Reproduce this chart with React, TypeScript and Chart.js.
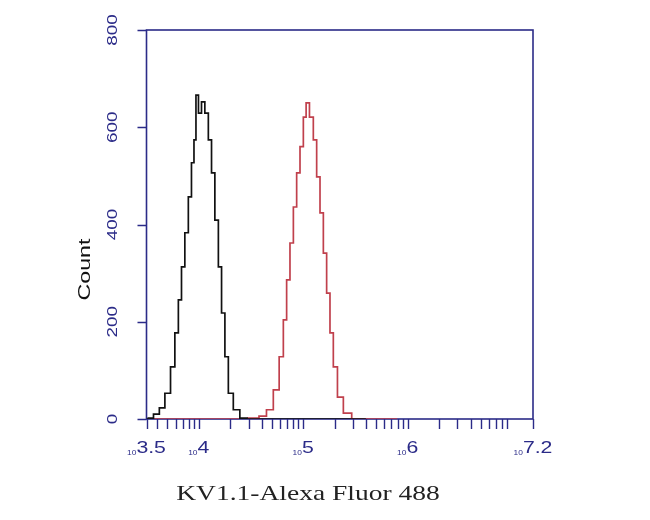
import React, { useEffect, useRef } from "react";
import { Chart, registerables } from "chart.js";

Chart.register(...registerables);

// Histogram 1 (control, black): log10 fluorescence vs count
const blackLog = [3.50, 3.534, 3.60, 3.646, 3.706, 3.754, 3.789, 3.821, 3.849, 3.885, 3.916, 3.945, 3.964, 3.983, 4.012, 4.041, 4.076, 4.108, 4.137, 4.172, 4.204, 4.233, 4.268, 4.299, 4.363, 4.424, 4.50, 5.00, 5.60];
const blackCount = [0, 2, 10, 23, 53, 107, 177, 245, 313, 383, 457, 527, 574, 666, 629, 652, 629, 574, 506, 409, 313, 218, 128, 53, 19, 2, 0, 0, 0];

// Histogram 2 (KV1.1-Alexa Fluor 488, red)
const redLog = [3.52, 4.40, 4.539, 4.615, 4.682, 4.746, 4.794, 4.826, 4.857, 4.890, 4.922, 4.953, 4.986, 5.017, 5.039, 5.081, 5.113, 5.145, 5.177, 5.209, 5.240, 5.273, 5.304, 5.352, 5.417, 5.512, 5.90];
const redCount = [0, 0, 2, 6, 19, 60, 128, 204, 286, 362, 436, 506, 560, 621, 650, 621, 574, 498, 424, 341, 259, 177, 107, 45, 12, 0, 0];

const yTicks = [0, 200, 400, 600, 800];
const xMajorExp = ["3.5", "4", "5", "6", "7.2"];
const xMajorVal = [3.5, 4, 5, 6, 7.2];
const xTitle = "KV1.1-Alexa Fluor 488";
const yTitle = "Count";

const NAVY = "#2b2b88";

function drawText(
  ctx: CanvasRenderingContext2D,
  text: string,
  x: number,
  y: number,
  font: string,
  color: string,
  sx: number,
  rot: number,
  align: CanvasTextAlign,
  baseline: CanvasTextBaseline
) {
  ctx.save();
  ctx.translate(x, y);
  ctx.rotate(rot);
  ctx.scale(sx, 1);
  ctx.font = font;
  ctx.fillStyle = color;
  ctx.textAlign = align;
  ctx.textBaseline = baseline;
  ctx.fillText(text, 0, 0);
  ctx.restore();
}

const axesPlugin = {
  id: "flowAxes",
  beforeDatasetsDraw(chart: any) {
    const { ctx, chartArea } = chart;
    const xs = chart.scales.x;
    const ys = chart.scales.y;
    const { left, right, top, bottom } = chartArea;
    ctx.save();
    ctx.strokeStyle = NAVY;
    ctx.lineWidth = 1.6;
    ctx.strokeRect(left, top, right - left, bottom - top);
    // y ticks
    ctx.beginPath();
    for (const v of yTicks) {
      const py = Math.round(ys.getPixelForValue(v)) + 0.5;
      ctx.moveTo(left - 9, py);
      ctx.lineTo(left, py);
    }
    // x ticks (log decades)
    ctx.lineWidth = 1.4;
    const minV = xs.min;
    const maxV = xs.max;
    const tv: number[] = [...xMajorVal];
    for (let n = 3; n <= 7; n++) {
      for (let m = 2; m <= 9; m++) {
        const v = Math.log10(m * Math.pow(10, n));
        if (v > minV && v < maxV) tv.push(v);
      }
    }
    for (const v of tv) {
      const px = Math.round(xs.getPixelForValue(v)) + 0.5;
      ctx.moveTo(px, bottom);
      ctx.lineTo(px, bottom + 10);
    }
    ctx.stroke();
    ctx.restore();

    // y tick labels (rotated)
    for (const v of yTicks) {
      const py = ys.getPixelForValue(v);
      drawText(ctx, String(v), left - 33, py, "14px 'Liberation Sans', Arial, sans-serif", NAVY, 1.35, -Math.PI / 2, "center", "middle");
    }
    // x tick labels: small "10" + exponent
    for (let i = 0; i < xMajorVal.length; i++) {
      const px = xs.getPixelForValue(xMajorVal[i]);
      const sx = 1.25;
      ctx.save();
      ctx.font = "7px 'Liberation Sans', Arial, sans-serif";
      const w1 = ctx.measureText("10").width * 1.2;
      ctx.font = "17px 'Liberation Sans', Arial, sans-serif";
      const w2 = ctx.measureText(xMajorExp[i]).width * sx;
      ctx.restore();
      const start = px - (w1 + w2) / 2;
      drawText(ctx, "10", start, bottom + 36, "7px 'Liberation Sans', Arial, sans-serif", NAVY, 1.2, 0, "left", "alphabetic");
      drawText(ctx, xMajorExp[i], start + w1, bottom + 34, "17px 'Liberation Sans', Arial, sans-serif", NAVY, sx, 0, "left", "alphabetic");
    }
    // axis titles
    drawText(ctx, yTitle, 86, (top + bottom) / 2 + 45, "16px 'Liberation Sans', Arial, sans-serif", "#111", 1.45, -Math.PI / 2, "center", "middle");
    drawText(ctx, xTitle, 308, 500, "22px 'Liberation Serif', 'Times New Roman', serif", "#222", 1.25, 0, "center", "alphabetic");
  },
};

export default function App() {
  const canvasRef = useRef<HTMLCanvasElement | null>(null);

  useEffect(() => {
    if (!canvasRef.current) return;
    const blackData = blackLog.map((x, i) => ({ x, y: blackCount[i] }));
    const redData = redLog.map((x, i) => ({ x, y: redCount[i] }));
    const chart = new Chart(canvasRef.current, {
      type: "line",
      data: {
        datasets: [
          {
            label: "Control",
            data: blackData,
            borderColor: "#111111",
            borderWidth: 1.7,
            pointRadius: 0,
            stepped: "middle",
            fill: false,
          },
          {
            label: "KV1.1",
            data: redData,
            borderColor: "#c0404c",
            borderWidth: 1.7,
            pointRadius: 0,
            stepped: "middle",
            fill: false,
          },
        ],
      },
      options: {
        animation: false,
        responsive: true,
        maintainAspectRatio: false,
        layout: { padding: { left: 146.5, top: 30, right: 117, bottom: 101 } },
        plugins: { legend: { display: false }, tooltip: { enabled: false } },
        scales: {
          x: { type: "linear", min: 3.5, max: 7.2, display: false },
          y: { type: "linear", min: 0, max: 800, display: false },
        },
      },
      plugins: [axesPlugin],
    });
    return () => chart.destroy();
  }, []);

  return (
    <div style={{ position: "absolute", left: 0, top: 0, width: 650, height: 520, background: "#ffffff" }}>
      <canvas ref={canvasRef} />
    </div>
  );
}
